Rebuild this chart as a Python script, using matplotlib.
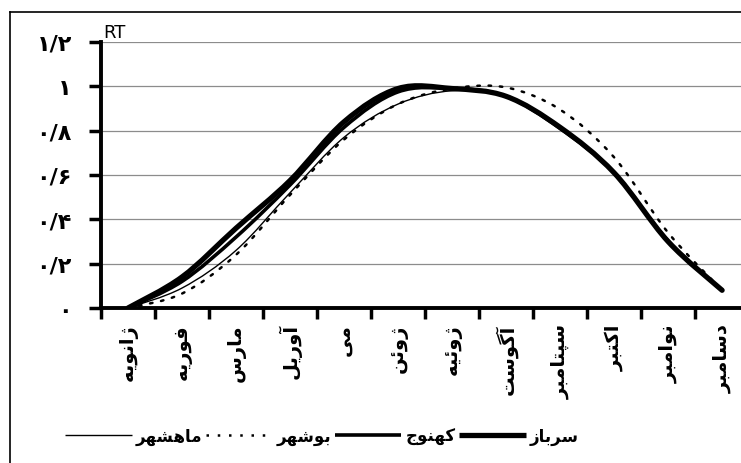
import numpy as np
import matplotlib
matplotlib.use('Agg')
import matplotlib.pyplot as plt
from matplotlib.path import Path
from matplotlib.patches import PathPatch
from matplotlib.lines import Line2D

# حروف فارسی را خودمان به شکل اتصالی تبدیل می‌کنیم (matplotlib شکل‌دهی ندارد)
FORMS = {
    'ا': ('\uFE8D', '\uFE8E'), 'آ': ('\uFE81', '\uFE82'),
    'د': ('\uFEA9', '\uFEAA'), 'ر': ('\uFEAD', '\uFEAE'),
    'ز': ('\uFEAF', '\uFEB0'), 'ژ': ('\uFB8A', '\uFB8B'),
    'و': ('\uFEED', '\uFEEE'),
    'ب': ('\uFE8F', '\uFE90', '\uFE91', '\uFE92'),
    'پ': ('\uFB56', '\uFB57', '\uFB58', '\uFB59'),
    'ت': ('\uFE95', '\uFE96', '\uFE97', '\uFE98'),
    'ج': ('\uFE9D', '\uFE9E', '\uFE9F', '\uFEA0'),
    'س': ('\uFEB1', '\uFEB2', '\uFEB3', '\uFEB4'),
    'ش': ('\uFEB5', '\uFEB6', '\uFEB7', '\uFEB8'),
    'ف': ('\uFED1', '\uFED2', '\uFED3', '\uFED4'),
    'ک': ('\uFB8E', '\uFB8F', '\uFB90', '\uFB91'),
    'گ': ('\uFB92', '\uFB93', '\uFB94', '\uFB95'),
    'ل': ('\uFEDD', '\uFEDE', '\uFEDF', '\uFEE0'),
    'م': ('\uFEE1', '\uFEE2', '\uFEE3', '\uFEE4'),
    'ن': ('\uFEE5', '\uFEE6', '\uFEE7', '\uFEE8'),
    'ه': ('\uFEE9', '\uFEEA', '\uFEEB', '\uFEEC'),
    'ی': ('\uFBFC', '\uFBFD', '\uFBFE', '\uFBFF'),
    'ئ': ('\uFE89', '\uFE8A', '\uFE8B', '\uFE8C'),
}


def shape(word):
    out = []
    for i, ch in enumerate(word):
        f = FORMS.get(ch)
        if f is None:
            out.append(ch)
            continue
        prev = word[i - 1] if i > 0 else None
        nxt = word[i + 1] if i + 1 < len(word) else None
        join_prev = prev in FORMS and len(FORMS[prev]) == 4
        join_next = len(f) == 4 and nxt in FORMS
        if join_prev and join_next:
            out.append(f[3])
        elif join_prev:
            out.append(f[1])
        elif join_next:
            out.append(f[2])
        else:
            out.append(f[0])
    return ''.join(reversed(out))


months = ['ژانویه', 'فوریه', 'مارس', 'آوریل', 'می', 'ژوئن',
          'ژوئیه', 'آگوست', 'سپتامبر', 'اکتبر', 'نوامبر', 'دسامبر']
sarbaz = [0, 0.14, 0.36, 0.575, 0.84, 0.99, 0.99, 0.955, 0.815, 0.61, 0.30, 0.08]
kahnuj = [0, 0.12, 0.32, 0.555, 0.815, 0.975, 0.99, 0.955, 0.81, 0.61, 0.30, 0.08]
bushehr = [0, 0.065, 0.24, 0.51, 0.76, 0.92, 0.99, 0.995, 0.895, 0.68, 0.34, 0.08]
mahshahr = [0, 0.09, 0.26, 0.52, 0.77, 0.92, 0.98, 0.955, 0.815, 0.61, 0.31, 0.08]
y_ticks = [0, 0.2, 0.4, 0.6, 0.8, 1.0, 1.2]
y_labels = ['۰', '۰/۲', '۰/۴', '۰/۶', '۰/۸', '۱', '۱/۲']


def smooth_path(xs, ys):
    # منحنی هموار مانند Excel (Catmull-Rom به Bezier)
    pts = np.column_stack([xs, ys]).astype(float)
    n = len(pts)
    verts = [pts[0]]
    codes = [Path.MOVETO]
    for i in range(n - 1):
        p0 = pts[max(i - 1, 0)]
        p1 = pts[i]
        p2 = pts[i + 1]
        p3 = pts[min(i + 2, n - 1)]
        verts += [p1 + (p2 - p0) / 6, p2 - (p3 - p1) / 6, p2]
        codes += [Path.CURVE4] * 3
    return Path(verts, codes)


plt.rcParams['font.family'] = ['DejaVu Sans']
fig = plt.figure(figsize=(7.41, 4.64), dpi=100)
ax = fig.add_axes([101 / 741, 155 / 464, 640 / 741, 266 / 464])

x = np.arange(len(months))
series = [
    (mahshahr, 'ماهشهر', dict(lw=1.0, ls='-')),
    (bushehr, 'بوشهر', dict(lw=1.8, ls=(0, (1, 3.5)))),
    (kahnuj, 'کهنوج', dict(lw=2.6, ls='-')),
    (sarbaz, 'سرباز', dict(lw=3.8, ls='-')),
]
handles = []
for vals, name, st in series:
    patch = PathPatch(smooth_path(x, vals), fill=False, color='black',
                      capstyle='round', joinstyle='round', zorder=3, **st)
    ax.add_patch(patch)
    handles.append(Line2D([], [], color='black', solid_capstyle='butt', **st))

ax.set_yticks(y_ticks)
ax.set_yticklabels(y_labels, fontsize=16, fontweight='bold')
ax.set_xticks(x)
ax.set_xticklabels([shape(m) for m in months], rotation=90, fontsize=14,
                   fontweight='bold', va='top')
ax.set_xticks(np.arange(-0.5, 12, 1), minor=True)
ax.set_xlim(-0.5, 11.35)
ax.set_ylim(0, 1.2)
ax.tick_params(axis='x', which='major', length=0, pad=11)
ax.tick_params(axis='x', which='minor', length=8, width=2.5, direction='out')
ax.tick_params(axis='y', length=9, width=2.5, pad=12)

ax.grid(axis='y', color='#8c8c8c', lw=0.9)
ax.set_axisbelow(True)
for s in ['top', 'right']:
    ax.spines[s].set_visible(False)
ax.spines['left'].set_linewidth(2.8)
ax.spines['bottom'].set_linewidth(2.8)

ax.text(0.003, 1.005, 'RT', transform=ax.transAxes, ha='left', va='bottom',
        fontsize=13)

fig.legend(handles, [shape(s[1]) for s in series], loc='center',
           bbox_to_anchor=(322 / 741, 1 - 437 / 464), ncol=4, frameon=False,
           handlelength=4.0, handletextpad=0.25, columnspacing=0.2,
           prop={'size': 12, 'weight': 'bold'})

# قاب اسکن شده دور نمودار
fig.add_artist(Line2D([10 / 741, 10 / 741], [0, 1 - 13 / 464], color='black', lw=1.2))
fig.add_artist(Line2D([10 / 741, 1], [1 - 13 / 464, 1 - 13 / 464], color='black', lw=1.2))

fig.savefig('out.png', dpi=100)
